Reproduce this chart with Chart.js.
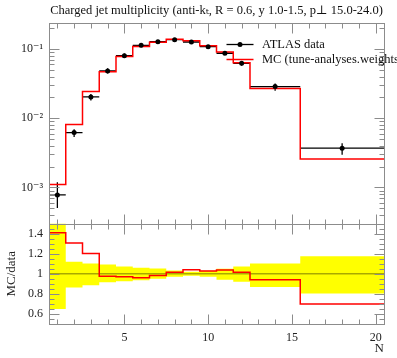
<!DOCTYPE html>
<html>
<head>
<meta charset="utf-8">
<script src="https://cdn.jsdelivr.net/npm/chart.js@4.4.0/dist/chart.umd.min.js"></script>
<style>
	html, body { margin: 0; padding: 0; background: #fff; }
</style>
</head>
<body>
<canvas id="myChart" width="397" height="358"></canvas>
<script>
// bins in N (charged jet multiplicity)
const binEdges = [0.5, 1.5, 2.5, 3.5, 4.5, 5.5, 6.5, 7.5, 8.5, 9.5, 10.5, 11.5, 12.5, 15.5, 20.5];
const binCentres = [1, 2, 3, 4, 5, 6, 7, 8, 9, 10, 11, 12, 14, 18];

// ATLAS data, with relative errors (up / down)
const dataValues = [7.8e-4, 6.2e-3, 0.0203, 0.0482, 0.080, 0.113, 0.127, 0.136, 0.126, 0.108, 0.0867, 0.062, 0.0286, 0.00369];
const dataErrUp = [0.52, 0.12, 0.104, 0.094, 0.074, 0.06, 0.053, 0.033, 0.02, 0.03, 0.05, 0.074, 0.104, 0.175];
const dataErrDown = [0.35, 0.135, 0.115, 0.085, 0.075, 0.065, 0.05, 0.03, 0.02, 0.03, 0.06, 0.08, 0.13, 0.196];

// MC prediction
const mcValues = [1.1e-3, 8.1e-3, 0.0244, 0.047, 0.0776, 0.1085, 0.125, 0.138, 0.131, 0.111, 0.090, 0.063, 0.0269, 0.00258];

// tick labels
const xTicks = [5, 10, 15, 20];
const yTicks = [1e-3, 1e-2, 1e-1];
const ratioTicks = [0.6, 0.8, 1, 1.2, 1.4];

const title = "Charged jet multiplicity (anti-k\u209C, R = 0.6, y 1.0-1.5, p\u22A5 15.0-24.0)";
const labelData = "ATLAS data";
const labelMC = "MC (tune-analyses.weights)";

const serif = "'Liberation Serif', 'DejaVu Serif', serif";
const frameColor = "#8c8c8c";

// histogram as stepped line: one point per bin edge
function histPoints(values) {
	return binEdges.map((e, i) => ({ x: e, y: values[Math.min(i, values.length - 1)] }));
}

const mcRatio = mcValues.map((v, i) => v / dataValues[i]);
const bandUp = dataErrUp.map(e => 1 + e);
const bandDown = dataErrDown.map(e => 1 - e);

const sup = { "-": "\u207B", "1": "\u00B9", "2": "\u00B2", "3": "\u00B3", "4": "\u2074" };

const frameTicks = {
	id: "frameTicks",
	beforeDatasetsDraw(chart) {
		// data error bars, under the MC line
		const { ctx, scales: { x, y } } = chart;
		ctx.save();
		ctx.beginPath();
		ctx.rect(x.left, y.top, x.right - x.left, y.bottom - y.top);
		ctx.clip();
		ctx.strokeStyle = "#000";
		ctx.lineWidth = 1.3;
		dataValues.forEach((v, i) => {
			const py = y.getPixelForValue(v);
			ctx.beginPath();
			ctx.moveTo(x.getPixelForValue(binEdges[i]), py);
			ctx.lineTo(x.getPixelForValue(binEdges[i + 1]), py);
			const px = x.getPixelForValue(binCentres[i]);
			ctx.moveTo(px, y.getPixelForValue(v * (1 + dataErrUp[i])));
			ctx.lineTo(px, y.getPixelForValue(v * (1 - dataErrDown[i])));
			ctx.stroke();
		});
		ctx.restore();
	},
	afterDraw(chart) {
		const { ctx, scales: { x, y, ratio } } = chart;
		ctx.save();
		ctx.strokeStyle = frameColor;
		ctx.lineWidth = 1;
		const line = (x0, y0, x1, y1) => {
			ctx.beginPath();
			ctx.moveTo(Math.round(x0) + 0.5, Math.round(y0) + 0.5);
			ctx.lineTo(Math.round(x1) + 0.5, Math.round(y1) + 0.5);
			ctx.stroke();
		};
		[y, ratio].forEach(s => {
			ctx.strokeRect(Math.round(x.left) + 0.5, Math.round(s.top) + 0.5, Math.round(x.right - x.left), Math.round(s.bottom - s.top));
			// x ticks on top and bottom of each panel
			for (let n = 1; n <= 20; n++) {
				const len = n % 5 === 0 ? 10 : 5;
				const px = x.getPixelForValue(n);
				line(px, s.top, px, s.top + len);
				line(px, s.bottom, px, s.bottom - len);
			}
		});
		// log ticks
		for (let d = -4; d <= 0; d++) {
			for (let m = 1; m <= 9; m++) {
				const v = m * Math.pow(10, d);
				if (v < y.min || v > y.max) continue;
				const py = y.getPixelForValue(v);
				const len = m === 1 ? 10 : 5;
				line(x.left, py, x.left + len, py);
				line(x.right, py, x.right - len, py);
			}
		}
		// ratio ticks
		for (let k = 11; k <= 29; k++) {
			const v = k * 0.05;
			const py = ratio.getPixelForValue(v);
			const len = k % 4 === 0 ? 10 : 5;
			line(x.left, py, x.left + len, py);
			line(x.right, py, x.right - len, py);
		}
		// legend
		ctx.font = "12.5px " + serif;
		ctx.textBaseline = "middle";
		ctx.strokeStyle = "#000";
		ctx.lineWidth = 1.3;
		line(226, 44, 253, 44);
		ctx.beginPath();
		ctx.arc(240, 44.5, 2.5, 0, 2 * Math.PI);
		ctx.fillStyle = "#000";
		ctx.fill();
		ctx.fillStyle = "#111";
		ctx.fillText(labelData, 262, 45);
		ctx.strokeStyle = "red";
		ctx.lineWidth = 1.5;
		line(226, 59, 253, 59);
		ctx.fillText(labelMC, 262, 60);
		ctx.restore();
	}
};

const ctx = document.getElementById("myChart");

let myChart = new Chart(ctx, {
	type: "line",
	data: {
		datasets: [
			{
				label: labelData,
				type: "scatter",
				data: binCentres.map((c, i) => ({ x: c, y: dataValues[i] })),
				yAxisID: "y",
				pointRadius: 2.5,
				pointBackgroundColor: "#000",
				pointBorderWidth: 0,
				showLine: false,
			},
			{
				label: labelMC,
				data: histPoints(mcValues),
				yAxisID: "y",
				stepped: "before",
				borderColor: "red",
				borderWidth: 1.5,
				pointRadius: 0,
				fill: false,
			},
			{
				label: "MC/data",
				data: histPoints(mcRatio),
				yAxisID: "ratio",
				stepped: "before",
				borderColor: "red",
				borderWidth: 1.5,
				pointRadius: 0,
				fill: false,
			},
			{
				label: "data = 1",
				data: [{ x: 0.5, y: 1 }, { x: 20.5, y: 1 }],
				yAxisID: "ratio",
				borderColor: "rgba(0, 0, 0, 0.5)",
				borderWidth: 1,
				pointRadius: 0,
				fill: false,
			},
			{
				label: "band up",
				data: histPoints(bandUp),
				yAxisID: "ratio",
				stepped: "before",
				borderWidth: 0,
				borderColor: "rgba(0,0,0,0)",
				backgroundColor: "#ffff00",
				pointRadius: 0,
				fill: "+1",
			},
			{
				label: "band down",
				data: histPoints(bandDown),
				yAxisID: "ratio",
				stepped: "before",
				borderWidth: 0,
				borderColor: "rgba(0,0,0,0)",
				pointRadius: 0,
				fill: false,
			},
		],
	},
	options: {
		responsive: false,
		animation: false,
		events: [],
		layout: {
			padding: { left: 0, right: 13, top: 0, bottom: 0 },
		},
		plugins: {
			legend: { display: false },
			tooltip: { enabled: false },
			title: {
				display: true,
				text: title,
				color: "#111",
				font: { family: serif, size: 12.5, weight: "normal" },
				padding: { top: 3, bottom: 5 },
				fullSize: false,
			},
		},
		scales: {
			x: {
				type: "linear",
				min: 0.5,
				max: 20.5,
				grid: { display: false, drawTicks: false },
				border: { display: false },
				afterBuildTicks: (s) => { s.ticks = xTicks.map(v => ({ value: v })); },
				afterFit: (s) => { s.height = 34; },
				ticks: {
					autoSkip: false,
					maxRotation: 0,
					padding: 7,
					color: "#222",
					font: { family: serif, size: 12 },
				},
				title: {
					display: true,
					text: "N",
					align: "end",
					color: "#222",
					font: { family: serif, size: 13 },
					padding: { top: 0, bottom: 2 },
				},
			},
			ratio: {
				type: "linear",
				position: "left",
				stack: "panels",
				stackWeight: 1,
				min: 0.5,
				max: 1.5,
				grid: { display: false, drawTicks: false },
				border: { display: false },
				afterBuildTicks: (s) => { s.ticks = ratioTicks.map(v => ({ value: v })); },
				afterFit: (s) => { s.width = 49; },
				ticks: {
					autoSkip: false,
					padding: 6,
					color: "#222",
					font: { family: serif, size: 12 },
					callback: (v) => (v === 1 ? "1" : v.toFixed(1)),
				},
				title: {
					display: true,
					text: "MC/data",
					color: "#222",
					font: { family: serif, size: 13 },
					padding: 4,
				},
			},
			y: {
				type: "logarithmic",
				position: "left",
				stack: "panels",
				stackWeight: 2,
				min: 3.0e-4,
				max: 0.237,
				grid: { display: false, drawTicks: false },
				border: { display: false },
				afterBuildTicks: (s) => { s.ticks = yTicks.map(v => ({ value: v })); },
				afterFit: (s) => { s.width = 49; },
				ticks: {
					autoSkip: false,
					padding: 6,
					color: "#222",
					font: { family: serif, size: 12 },
					callback: (v) => "10" + String(Math.round(Math.log10(v))).split("").map(c => sup[c]).join(""),
				},
			},
		},
	},
	plugins: [frameTicks],
});
</script>
</body>
</html>
